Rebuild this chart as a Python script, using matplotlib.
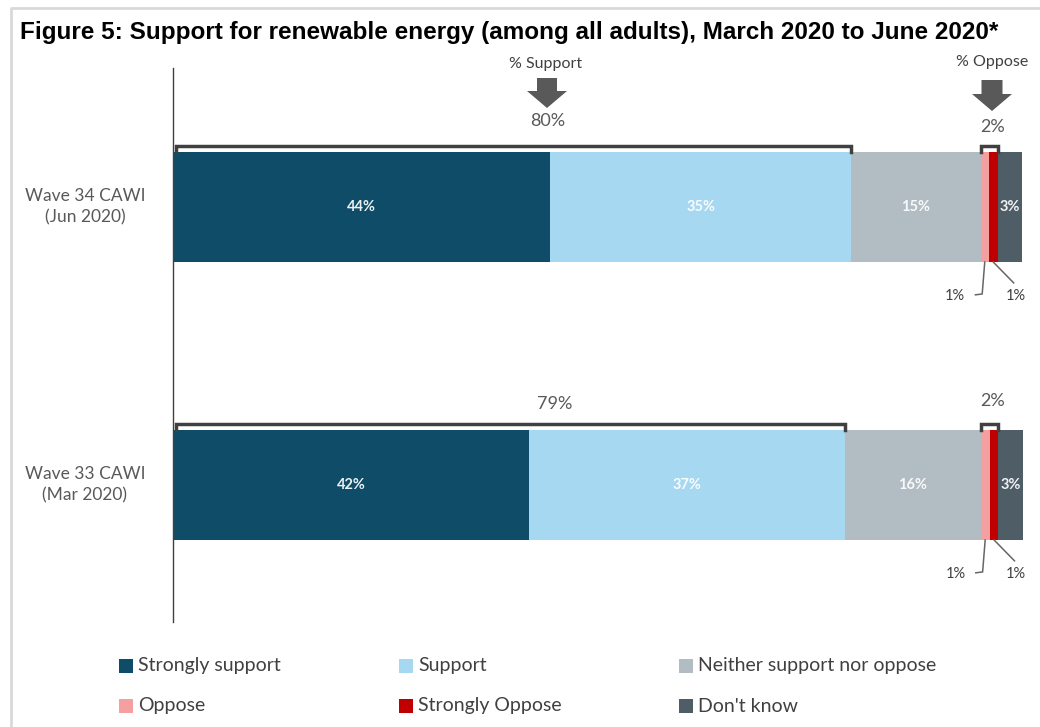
import matplotlib
matplotlib.use("Agg")
import matplotlib.pyplot as plt
from matplotlib.patches import Polygon, Rectangle
from matplotlib.lines import Line2D
from matplotlib.transforms import Affine2D, blended_transform_factory

# ---------------- data ----------------
categories = ["Strongly support", "Support", "Neither support nor oppose",
              "Oppose", "Strongly Oppose", "Don't know"]
waves = ["Wave 34 CAWI\n(Jun 2020)", "Wave 33 CAWI\n(Mar 2020)"]
wave34 = [44.4, 35.4, 15.2, 1.0, 1.0, 2.9]
wave33 = [41.9, 37.2, 15.9, 1.1, 1.0, 2.9]
support_totals = [80, 79]
oppose_totals = [2, 2]
colors = ["#0F4C68", "#A7D8F1", "#B1BCC3", "#F5A0A0", "#C00000", "#4F5D67"]

title = "Figure 5: Support for renewable energy (among all adults), March 2020 to June 2020*"

W, H = 1040, 727
fig = plt.figure(figsize=(W / 100, H / 100), dpi=100)
px = Affine2D().scale(1 / W, -1 / H).translate(0, 1) + fig.transFigure

LAB = ["Lato", "DejaVu Sans"]
GREY = "#595959"
DARK = "#404040"

# frame
fig.add_artist(Line2D([11, 11, W + 5], [H + 5, 8, 8], transform=px,
                      color="#D9D9D9", lw=2))

fig.text(20, 32, title, transform=px, fontsize=17.5, fontweight="bold",
         family=["Liberation Sans", "DejaVu Sans"], va="center", ha="left",
         color="#000000")

ax = fig.add_axes([173 / W, 1 - 622 / H, 850 / W, 554 / H])
ax.set_xlim(0, 100)
ax.set_ylim(-0.493, 1.5)
for s in ["top", "right", "bottom"]:
    ax.spines[s].set_visible(False)
ax.spines["left"].set_color("#404040")
ax.spines["left"].set_linewidth(1.0)
ax.set_xticks([])
ax.set_yticks([])

ypos = [1, 0]
bh = 0.396
data = [wave34, wave33]
ylt = blended_transform_factory(fig.transFigure, ax.transData)

for yi, vals, wl in zip(ypos, data, waves):
    left = 0
    for v, c in zip(vals, colors):
        ax.barh(yi, v, left=left, height=bh, color=c, edgecolor="none")
        left += v
    ax.text(85 / W, yi, wl, transform=ylt, ha="center", va="center",
            fontsize=12.5, color=GREY, family=LAB, linespacing=1.4)

    # in-bar labels
    left = 0
    for k, v in enumerate(vals):
        if v >= 2.5:
            ax.text(left + v / 2, yi, f"{round(v):.0f}%", ha="center", va="center",
                    fontsize=10.5, fontweight="bold", color="white", family=LAB,
                    alpha=0.92)
        left += v

    top = yi + bh / 2
    bot = yi - bh / 2
    d = 0.02
    # support bracket
    sx = vals[0] + vals[1]
    ax.plot([0.3, 0.3, sx, sx], [top, top + d, top + d, top], color=DARK, lw=2.5,
            solid_joinstyle="miter", clip_on=False)
    # oppose bracket
    o0 = sum(vals[:3])
    o1 = sum(vals[:5])
    ax.plot([o0, o0, o1, o1], [top, top + d, top + d, top], color=DARK, lw=2.5,
            solid_joinstyle="miter", clip_on=False)

    # leader lines for small segments
    ox = o0 + vals[3] / 2
    so = o0 + vals[3] + vals[4] / 2
    ax.plot([ox, ox - 0.3, ox - 1.1], [bot, bot - 0.115, bot - 0.118], color="#666666",
            lw=1.1, clip_on=False)
    ax.plot([so, so + 2.4], [bot, bot - 0.075], color="#666666", lw=1.1, clip_on=False)
    ax.text(ox - 3.5, bot - 0.122, f"{round(vals[3]):.0f}%", ha="center", va="center",
            fontsize=10.5, color=DARK, family=LAB)
    ax.text(so + 2.6, bot - 0.122, f"{round(vals[4]):.0f}%", ha="center", va="center",
            fontsize=10.5, color=DARK, family=LAB)

# totals above brackets
ax.text(44.1, 1 + bh / 2 + 0.11, f"{support_totals[0]}%", ha="center", va="center",
        fontsize=13, color=GREY, family=LAB, clip_on=False)
ax.text(44.9, 0 + bh / 2 + 0.095, f"{support_totals[1]}%", ha="center", va="center",
        fontsize=13, color=GREY, family=LAB, clip_on=False)
ax.text(96.4, 1 + bh / 2 + 0.09, f"{oppose_totals[0]}%", ha="center", va="center",
        fontsize=13, color=GREY, family=LAB, clip_on=False)
ax.text(96.4, 0 + bh / 2 + 0.105, f"{oppose_totals[1]}%", ha="center", va="center",
        fontsize=13, color=GREY, family=LAB, clip_on=False)


def arrow(cx, y0, yh, tip, sw, hw):
    pts = [(cx - sw / 2, y0), (cx + sw / 2, y0), (cx + sw / 2, yh), (cx + hw / 2, yh),
           (cx, tip), (cx - hw / 2, yh), (cx - sw / 2, yh)]
    fig.add_artist(Polygon(pts, closed=True, transform=px, facecolor="#595959",
                           edgecolor="none"))


arrow(547, 78, 91, 108, 20, 40)
arrow(992, 80, 94, 111, 21, 40)
fig.text(546, 64, "% Support", transform=px, ha="center", va="center", fontsize=11.5,
         color=DARK, family=LAB)
fig.text(992, 62, "% Oppose", transform=px, ha="center", va="center", fontsize=11.5,
         color=DARK, family=LAB)

# legend
leg_pos = [(119, 666), (399, 666), (679, 666), (119, 706), (399, 706), (679, 706)]
for (lx, ly), cat, c in zip(leg_pos, categories, colors):
    fig.add_artist(Rectangle((lx, ly - 7), 14, 14, transform=px, facecolor=c,
                             edgecolor="none"))
    fig.text(lx + 19, ly, cat, transform=px, ha="left", va="center", fontsize=14,
             color=DARK, family=LAB)

fig.savefig("out.png", dpi=100)
